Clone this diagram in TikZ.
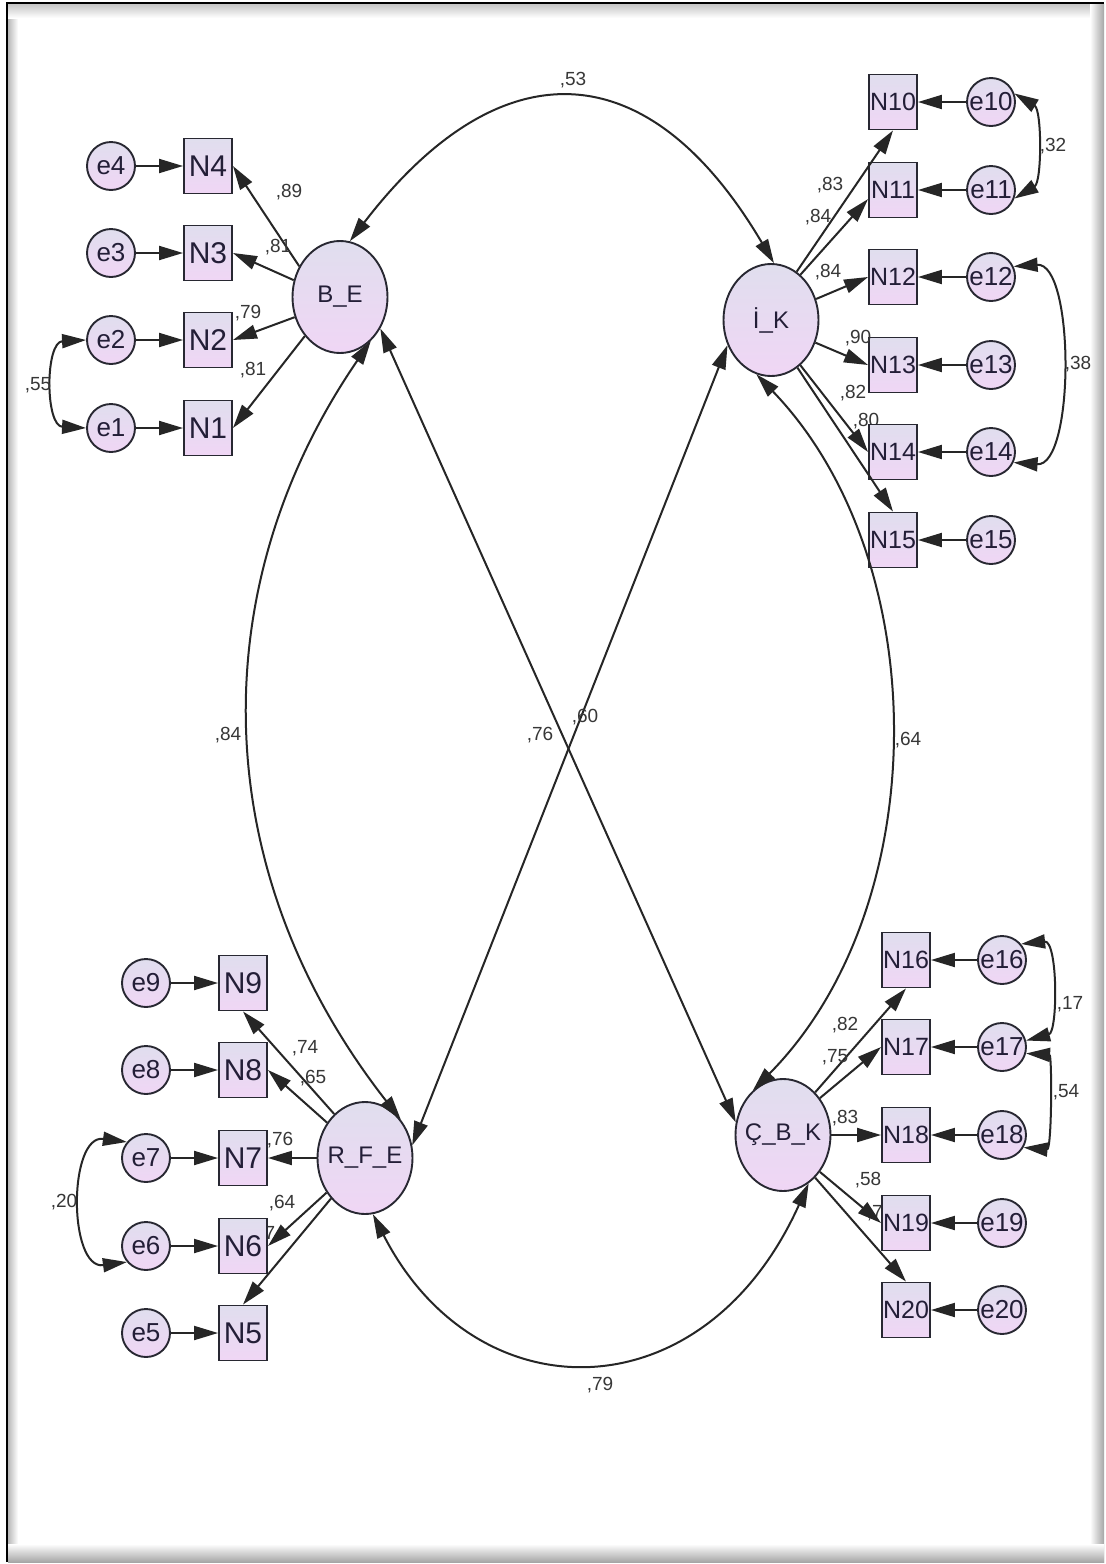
\documentclass[tikz,border=0pt]{standalone}
\usepackage{fontspec}
\setmainfont{Liberation Sans}
\usetikzlibrary{shapes.geometric,arrows.meta,backgrounds}
\definecolor{edge}{RGB}{40,40,50}
\definecolor{ftop}{RGB}{224,222,238}
\definecolor{fbot}{RGB}{240,214,245}
\definecolor{txt}{RGB}{35,30,55}
\definecolor{labc}{RGB}{55,55,55}
\tikzset{
  shp/.style={draw=edge, line width=1.9pt, top color=ftop, bottom color=fbot, inner sep=0pt, text=txt},
  lat/.style={shp, ellipse, minimum width=95pt, minimum height=112pt, font=\fontsize{24}{28}\selectfont},
  obsA/.style={shp, rectangle, minimum width=48pt, minimum height=55pt, font=\fontsize{30}{34}\selectfont},
  obsB/.style={shp, rectangle, minimum width=48pt, minimum height=55pt, font=\fontsize{25}{29}\selectfont},
  err/.style={shp, circle, minimum size=48pt, font=\fontsize{26}{30}\selectfont},
  tip/.tip={Triangle[length=24pt,width=14pt]},
  reg/.style={draw=black!85, line width=2pt, -tip},
  cov/.style={draw=black!85, line width=2pt, tip-tip},
  coef/.style={font=\fontsize{19}{22}\selectfont, text=labc, inner sep=0pt},
}
\begin{document}
\begin{tikzpicture}[x=1pt,y=-1pt]
\useasboundingbox (0,0) rectangle (1106,1564);
% frame
\begin{scope}[on background layer]
  \fill[white] (0,0) rectangle (1106,1564);
  \shade[left color=gray!55, right color=white] (8,4) rectangle (18,1558);
  \shade[top color=gray!45, bottom color=white] (8,4) rectangle (1100,18);
  \shade[left color=white, right color=gray!70] (1090,4) rectangle (1104,1562);
  \shade[top color=white, bottom color=gray!70] (8,1544) rectangle (1104,1562);
  \draw[line width=2.5pt] (7,1562) -- (7,3) -- (1104,3);
  % labels partly hidden behind boxes and arrows
  \node[coef] (h1) at (866,421) {,80};
  \node[coef] (h2) at (262,1234) {,77};
  \node[coef] (h3) at (880,1213) {,72};
\end{scope}

% latent variables
\node[lat] (BE) at (340,297) {\makebox[0pt]{B\_E}};
\node[lat] (IK) at (771,320) {\makebox[0pt]{İ\_K}};
\node[lat] (RFE) at (365,1158) {\makebox[0pt]{R\_F\_E}};
\node[lat] (CBK) at (783,1135) {\makebox[0pt]{Ç\_B\_K}};

% top-left
\node[err] (e4) at (111,166) {\makebox[0pt]{e4}};
\node[err] (e3) at (111,253) {\makebox[0pt]{e3}};
\node[err] (e2) at (111,340) {\makebox[0pt]{e2}};
\node[err] (e1) at (111,428) {\makebox[0pt]{e1}};
\node[obsA] (N4) at (208,166) {N4};
\node[obsA] (N3) at (208,253) {N3};
\node[obsA] (N2) at (208,340) {N2};
\node[obsA] (N1) at (208,428) {N1};

% top-right
\node[obsB] (N10) at (893,102) {\makebox[0pt]{N10}};
\node[obsB] (N11) at (893,190) {\makebox[0pt]{N11}};
\node[obsB] (N12) at (893,277) {\makebox[0pt]{N12}};
\node[obsB] (N13) at (893,365) {\makebox[0pt]{N13}};
\node[obsB] (N14) at (893,452) {\makebox[0pt]{N14}};
\node[obsB] (N15) at (893,540) {\makebox[0pt]{N15}};
\node[err] (e10) at (991,102) {\makebox[0pt]{e10}};
\node[err] (e11) at (991,190) {\makebox[0pt]{e11}};
\node[err] (e12) at (991,277) {\makebox[0pt]{e12}};
\node[err] (e13) at (991,365) {\makebox[0pt]{e13}};
\node[err] (e14) at (991,452) {\makebox[0pt]{e14}};
\node[err] (e15) at (991,540) {\makebox[0pt]{e15}};

% bottom-left
\node[err] (e9) at (146,983) {\makebox[0pt]{e9}};
\node[err] (e8) at (146,1070) {\makebox[0pt]{e8}};
\node[err] (e7) at (146,1158) {\makebox[0pt]{e7}};
\node[err] (e6) at (146,1246) {\makebox[0pt]{e6}};
\node[err] (e5) at (146,1333) {\makebox[0pt]{e5}};
\node[obsA] (N9) at (243,983) {N9};
\node[obsA] (N8) at (243,1070) {N8};
\node[obsA] (N7) at (243,1158) {N7};
\node[obsA] (N6) at (243,1246) {N6};
\node[obsA] (N5) at (243,1333) {N5};

% bottom-right
\node[obsB] (N16) at (906,960) {\makebox[0pt]{N16}};
\node[obsB] (N17) at (906,1047) {\makebox[0pt]{N17}};
\node[obsB] (N18) at (906,1135) {\makebox[0pt]{N18}};
\node[obsB] (N19) at (906,1223) {\makebox[0pt]{N19}};
\node[obsB] (N20) at (906,1310) {\makebox[0pt]{N20}};
\node[err] (e16) at (1002,960) {\makebox[0pt]{e16}};
\node[err] (e17) at (1002,1047) {\makebox[0pt]{e17}};
\node[err] (e18) at (1002,1135) {\makebox[0pt]{e18}};
\node[err] (e19) at (1002,1223) {\makebox[0pt]{e19}};
\node[err] (e20) at (1002,1310) {\makebox[0pt]{e20}};

% error -> indicator
\foreach \i in {1,...,9} { \draw[reg] (e\i) -- (N\i); }
\foreach \i in {10,...,20} { \draw[reg] (e\i) -- (N\i); }

% loadings
\draw[reg] (BE.143) -- (N4.east);
\draw[reg] (BE.160) -- (N3.east);
\draw[reg] (BE.204) -- (N2.east);
\draw[reg] (BE.228) -- (N1.east);

\draw[reg] (IK.62) -- (N10.south);
\draw[reg] (IK.57) -- (N11.200);
\draw[reg] (IK.25) -- (N12.west);
\draw[reg] (IK.-27) -- (N13.west);
\draw[reg] (IK.-57) -- (N14.west);
\draw[reg] (IK.-61) -- (N15.north);

\draw[reg] (RFE.125) -- (N9.south);
\draw[reg] (RFE.137) -- (N8.east);
\draw[reg] (RFE.west) -- (N7.east);
\draw[reg] (RFE.222) -- (N6.east);
\draw[reg] (RFE.230) -- (N5.north);

\draw[reg] (CBK.53) -- (N16.south);
\draw[reg] (CBK.45) -- (N17.west);
\draw[reg] (CBK.east) -- (N18.west);
\draw[reg] (CBK.-45) -- (N19.west);
\draw[reg] (CBK.-53) -- (N20.north);

% error covariances
\draw[cov] (e2.west) .. controls (45,342) and (45,426) .. (e1.west);
\draw[cov] (e7.140) .. controls (68,1134) and (68,1270) .. (e6.220);
\draw[cov] (e10.20) .. controls (1042,110) and (1042,182) .. (e11.-20);
\draw[cov] (e12.25) .. controls (1075,262) and (1075,467) .. (e14.-25);
\draw[cov] (e16.40) .. controls (1058,940) and (1058,1032) .. (e17.15);
\draw[cov] (e17.-15) .. controls (1052,1055) and (1052,1150) .. (e18.-30);

% latent covariances
\draw[cov] (BE.80) .. controls (498,48) and (647,48) .. (IK.87);
\draw[cov] (BE.-55) .. controls (204,584) and (204,868) .. (RFE.47);
\draw[cov] (IK.-105) .. controls (935,560) and (935,906) .. (CBK.124);
\draw[cov] (RFE.-82) .. controls (476,1416) and (704,1416) .. (CBK.-62);
\draw[cov] (BE.-38) -- (CBK.165);
\draw[cov] (IK.210) -- (RFE.15);

% coefficients
\node[coef] (c53) at (573,80) {,53};
\node[coef] (c89) at (289,192) {,89};
\node[coef] (c81a) at (278,247) {,81};
\node[coef] (c79a) at (248,313) {,79};
\node[coef] (c81b) at (253,370) {,81};
\node[coef] (c55) at (38,385) {,55};
\node[coef] (c84a) at (228,735) {,84};
\node[coef] (c83a) at (830,185) {,83};
\node[coef] (c84b) at (818,217) {,84};
\node[coef] (c84c) at (828,272) {,84};
\node[coef] (c90) at (858,338) {,90};
\node[coef] (c82a) at (853,393) {,82};
\node[coef] (c32) at (1053,146) {,32};
\node[coef] (c38) at (1078,364) {,38};
\node[coef] (c76a) at (540,735) {,76};
\node[coef] (c60) at (585,717) {,60};
\node[coef] (c64a) at (908,740) {,64};
\node[coef] (c74) at (305,1048) {,74};
\node[coef] (c65) at (313,1078) {,65};
\node[coef] (c76b) at (280,1140) {,76};
\node[coef] (c64b) at (282,1203) {,64};
\node[coef] (c20) at (64,1202) {,20};
\node[coef] (c82b) at (845,1025) {,82};
\node[coef] (c75) at (835,1057) {,75};
\node[coef] (c83b) at (845,1118) {,83};
\node[coef] (c58) at (868,1180) {,58};
\node[coef] (c17) at (1070,1004) {,17};
\node[coef] (c54) at (1066,1092) {,54};
\node[coef] (c79b) at (600,1385) {,79};
\end{tikzpicture}
\end{document}
